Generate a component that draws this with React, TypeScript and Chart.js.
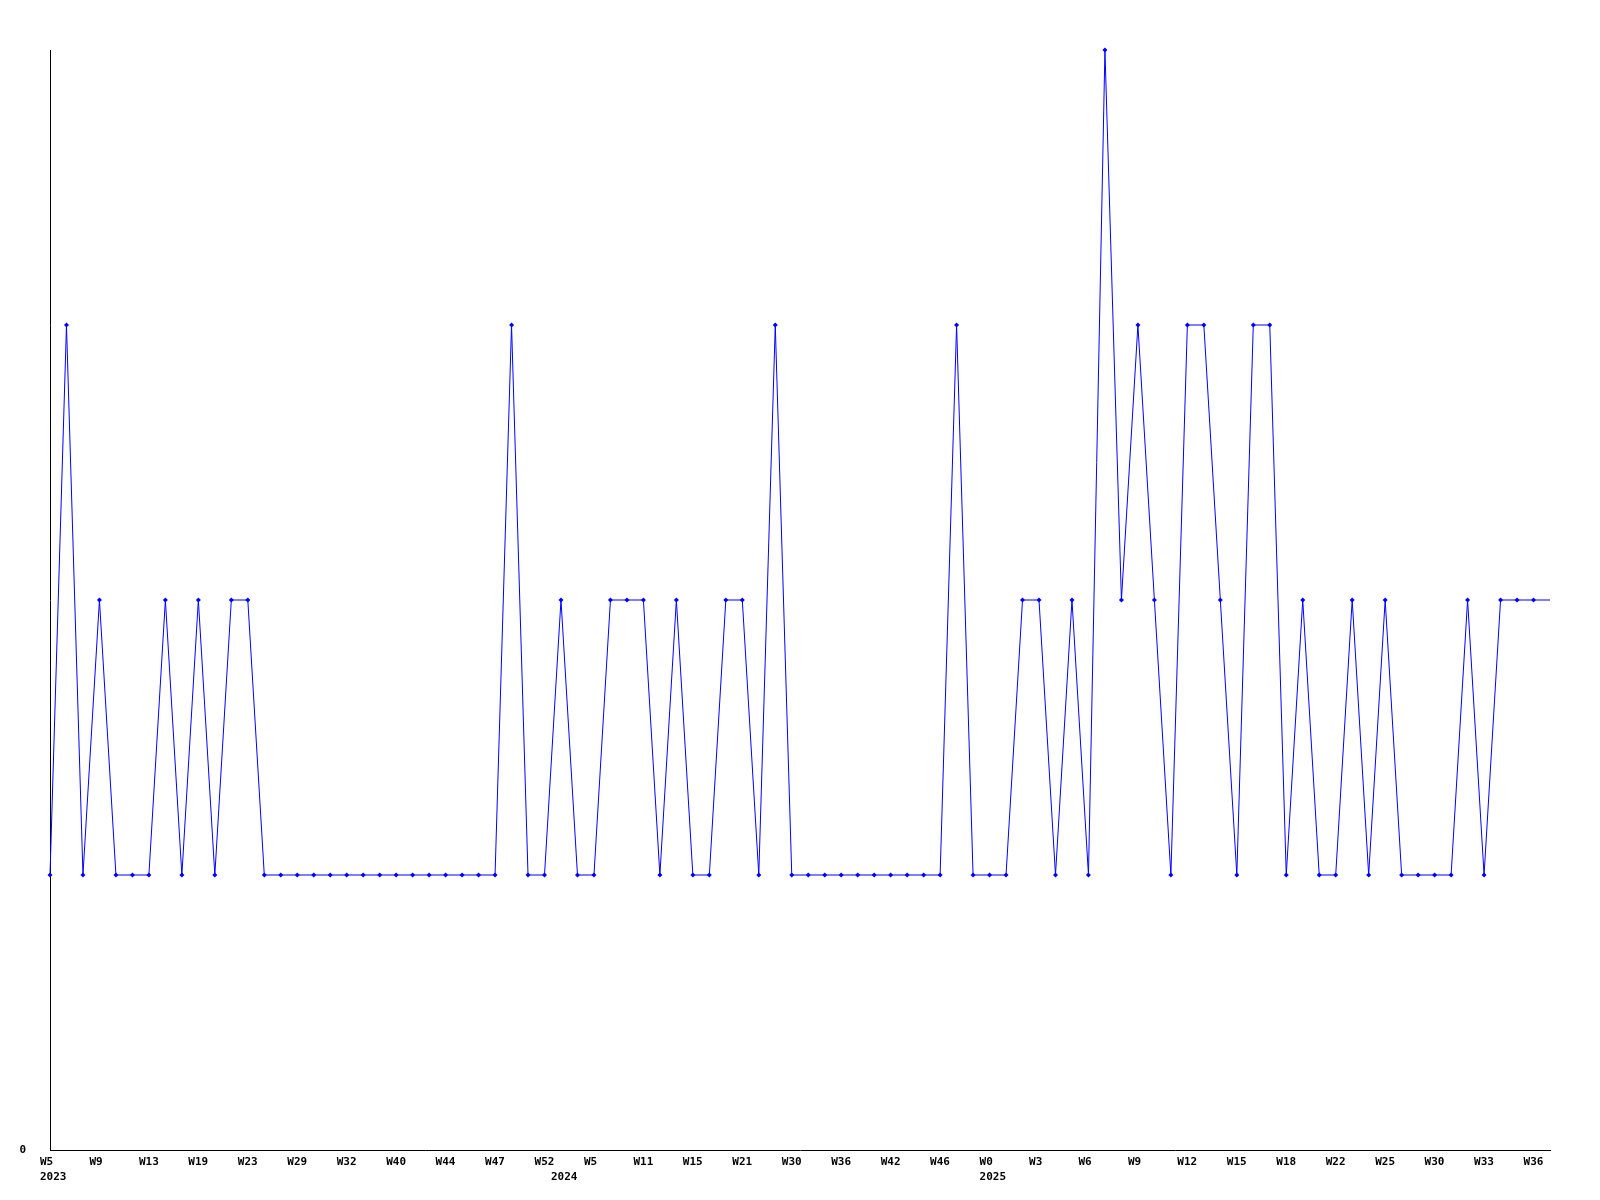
import React, { useEffect, useRef } from "react";
import { Chart, registerables } from "chart.js";

Chart.register(...registerables);

const weekLabels = [
  "W5", "W9", "W13", "W19", "W23", "W29", "W32", "W40", "W44", "W47", "W52",
  "W5", "W11", "W15", "W21", "W30", "W36", "W42", "W46",
  "W0", "W3", "W6", "W9", "W12", "W15", "W18", "W22", "W25", "W30", "W33", "W36",
];
const yearLabels = ["2023", "2024", "2025"];
const yearIndices = [0, 31, 57];
const yTickValues = [0];

const values = [
  1, 3, 1, 2, 1, 1, 1, 2, 1, 2, 1, 2, 2, 1,
  1, 1, 1, 1, 1, 1, 1, 1, 1, 1, 1, 1, 1, 1,
  3, 1, 1, 2, 1, 1, 2, 2, 2, 1, 2, 1, 1, 2, 2, 1, 3,
  1, 1, 1, 1, 1, 1, 1, 1, 1, 1,
  3, 1, 1, 1, 2, 2, 1, 2, 1, 4, 2, 3, 2, 1, 3, 3, 2, 1, 3, 3, 1, 2, 1, 1, 2, 1, 2, 1, 1, 1, 1, 2, 1, 2, 2, 2, 2,
];

const FONT = { family: "'DejaVu Sans Mono', monospace", size: 11, weight: "bold" as const, lineHeight: "15px" };

export default function App() {
  const ref = useRef<HTMLCanvasElement | null>(null);

  useEffect(() => {
    if (!ref.current) return;
    const lastIdx = values.length - 1;
    const tickIdx: number[] = [];
    for (let i = 0; i < weekLabels.length; i++) tickIdx.push(i * 3);
    yearIndices.forEach((y) => { if (!tickIdx.includes(y)) tickIdx.push(y); });
    tickIdx.sort((a, b) => a - b);

    const chart = new Chart(ref.current, {
      type: "line",
      data: {
        datasets: [
          {
            data: values.map((v, i) => ({ x: i, y: v })),
            borderColor: "#0000ff",
            backgroundColor: "#0000ff",
            borderWidth: 1,
            tension: 0,
            fill: false,
            clip: false,
            pointStyle: "rectRot",
            pointRadius: (ctx: any) => (ctx.dataIndex === lastIdx ? 0 : 2.5),
            pointBorderWidth: 0,
            pointBackgroundColor: "#0000ff",
          },
        ],
      },
      options: {
        responsive: false,
        animation: false,
        devicePixelRatio: 1,
        layout: { padding: { left: 0, top: 50, right: 50, bottom: 0 } },
        plugins: { legend: { display: false }, tooltip: { enabled: false } },
        events: [],
        scales: {
          x: {
            type: "linear",
            min: 0,
            max: lastIdx,
            grid: { display: false, drawTicks: false },
            border: { display: true, color: "#000", width: 1 },
            afterFit: (s: any) => { s.height = 50; },
            afterBuildTicks: (s: any) => { s.ticks = tickIdx.map((v) => ({ value: v })); },
            ticks: {
              autoSkip: false,
              maxRotation: 0,
              minRotation: 0,
              align: "start",
              labelOffset: -10,
              padding: 5,
              color: "#000",
              font: FONT,
              callback: (value: any) => {
                const i = Number(value);
                const w = i % 3 === 0 ? weekLabels[i / 3] ?? "" : "";
                const yi = yearIndices.indexOf(i);
                if (yi >= 0) return [w, yearLabels[yi]];
                return w;
              },
            },
          },
          y: {
            type: "linear",
            min: 0,
            max: 4,
            grid: { display: false, drawTicks: false },
            border: { display: true, color: "#000", width: 1 },
            afterFit: (s: any) => { s.width = 50; },
            afterBuildTicks: (s: any) => { s.ticks = yTickValues.map((v) => ({ value: v })); },
            ticks: {
              padding: 24,
              color: "#000",
              font: FONT,
              callback: (value: any) => String(value),
            },
          },
        },
      },
    } as any);
    return () => chart.destroy();
  }, []);

  return (
    <div style={{ position: "fixed", left: 0, top: 0, width: 1600, height: 1200, background: "#fff" }}>
      <canvas ref={ref} width={1600} height={1200} />
    </div>
  );
}
